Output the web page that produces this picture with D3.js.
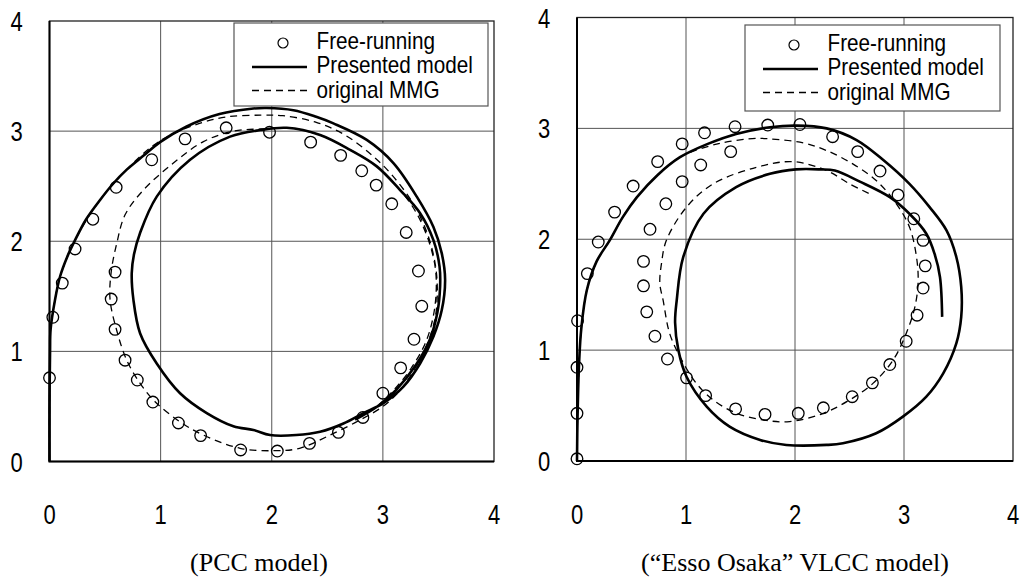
<!DOCTYPE html>
<html>
<head>
<meta charset="utf-8">
<script src="https://cdn.jsdelivr.net/npm/d3@7"></script>
<style>
  body { margin: 0; background: #fff; }
  svg { display: block; }
</style>
</head>
<body>
<div id="chart"></div>
<script>
// axis ticks (both axes, both panels)
var ticks = [0, 1, 2, 3, 4];
var legendLabels = ["Free-running", "Presented model", "original MMG"];
var captions = ["(PCC model)", "(\u201cEsso Osaka\u201d VLCC model)"];

// PCC model
var pccFree = [
  [0, 0.76], [0.03, 1.31], [0.115, 1.62], [0.23, 1.93], [0.39, 2.20], [0.60, 2.49],
  [0.92, 2.74], [1.22, 2.93], [1.59, 3.03], [1.98, 2.99], [2.35, 2.90], [2.62, 2.78],
  [2.81, 2.64], [2.94, 2.51], [3.08, 2.34], [3.21, 2.08], [3.32, 1.73], [3.35, 1.41],
  [3.28, 1.11], [3.16, 0.85], [3.00, 0.62], [2.82, 0.40], [2.60, 0.265], [2.34, 0.165],
  [2.05, 0.095], [1.72, 0.105], [1.36, 0.235], [1.16, 0.35], [0.93, 0.54], [0.79, 0.74],
  [0.68, 0.92], [0.59, 1.20], [0.555, 1.475], [0.59, 1.72]
];
var pccPresented = [
  [0, 0], [0, 0.5], [0.005, 1.0], [0.01, 1.2], [0.05, 1.47], [0.095, 1.68], [0.16, 1.86],
  [0.23, 2.01], [0.33, 2.2], [0.455, 2.375], [0.57, 2.52], [0.695, 2.65], [0.85, 2.78],
  [0.995, 2.90], [1.23, 3.04], [1.53, 3.155], [1.835, 3.205], [1.955, 3.21], [2.195, 3.19],
  [2.4, 3.13], [2.555, 3.07], [2.855, 2.92], [3.095, 2.71], [3.305, 2.405], [3.455, 2.13],
  [3.53, 1.89], [3.56, 1.65], [3.53, 1.375], [3.455, 1.135], [3.335, 0.89], [3.185, 0.68],
  [3.005, 0.53], [2.825, 0.44], [2.645, 0.345], [2.435, 0.27], [2.22, 0.24], [1.985, 0.24],
  [1.835, 0.286], [1.655, 0.32], [1.415, 0.44], [1.175, 0.62], [0.965, 0.89], [0.815, 1.165],
  [0.755, 1.47], [0.74, 1.71], [0.76, 1.88], [0.815, 2.075], [0.965, 2.405], [1.265, 2.74],
  [1.625, 2.95], [1.9, 3.01], [2.135, 3.03], [2.435, 2.965], [2.705, 2.83], [2.945, 2.68],
  [3.155, 2.465], [3.335, 2.255], [3.455, 2.01], [3.51, 1.77], [3.515, 1.59], [3.49, 1.35],
  [3.42, 1.1], [3.3, 0.88], [3.12, 0.65], [2.95, 0.5], [2.75, 0.38]
];
var pccMMG = [
  [0, 0], [0, 0.5], [0.005, 1.0], [0.01, 1.2], [0.05, 1.47], [0.095, 1.68], [0.23, 2.01],
  [0.455, 2.375], [0.695, 2.65], [0.92, 2.86], [1.1, 2.97], [1.35, 3.07], [1.6, 3.13],
  [1.9, 3.145], [2.1, 3.14], [2.4, 3.08], [2.65, 2.97], [2.915, 2.77], [3.1, 2.58],
  [3.28, 2.33], [3.4, 2.07], [3.47, 1.8], [3.49, 1.55], [3.47, 1.3], [3.4, 1.07],
  [3.28, 0.83], [3.15, 0.64], [3.0, 0.5], [2.8, 0.38], [2.555, 0.255], [2.25, 0.12],
  [2.015, 0.098], [1.715, 0.12], [1.385, 0.24], [1.175, 0.36], [0.95, 0.543], [0.815, 0.71],
  [0.695, 0.92], [0.605, 1.19], [0.545, 1.47], [0.555, 1.72], [0.605, 1.98], [0.68, 2.24],
  [0.845, 2.465], [1.115, 2.71], [1.385, 2.905], [1.655, 3.0], [1.9, 3.02], [2.135, 3.03],
  [2.435, 2.965], [2.705, 2.83], [2.945, 2.68], [3.155, 2.465], [3.3, 2.26], [3.41, 2.01],
  [3.47, 1.77], [3.48, 1.55], [3.45, 1.3], [3.38, 1.07], [3.25, 0.84], [3.1, 0.65], [2.97, 0.52]
];

// "Esso Osaka" VLCC model
var vlccFree = [
  [0, 0.02], [0, 0.43], [0, 0.845], [0.005, 1.265], [0.095, 1.69], [0.195, 1.975],
  [0.345, 2.245], [0.515, 2.48], [0.74, 2.70], [0.965, 2.86], [1.17, 2.96], [1.45, 3.015],
  [1.75, 3.03], [2.045, 3.035], [2.345, 2.925], [2.575, 2.79], [2.78, 2.615], [2.945, 2.40],
  [3.09, 2.185], [3.175, 1.99], [3.195, 1.76], [3.175, 1.56], [3.12, 1.315], [3.02, 1.08],
  [2.87, 0.87], [2.71, 0.705], [2.525, 0.58], [2.26, 0.48], [2.03, 0.43], [1.725, 0.42],
  [1.455, 0.47], [1.18, 0.59], [1.005, 0.75], [0.83, 0.92], [0.715, 1.125], [0.64, 1.345],
  [0.61, 1.58], [0.61, 1.80], [0.67, 2.09], [0.815, 2.32], [0.965, 2.52], [1.135, 2.67],
  [1.41, 2.79]
];
var vlccPresented = [
  [0, 0], [0.005, 0.4], [0.02, 0.9], [0.04, 1.2], [0.09, 1.54], [0.18, 1.8], [0.30, 1.99],
  [0.42, 2.2], [0.55, 2.38], [0.74, 2.58], [0.945, 2.74], [1.2, 2.86], [1.46, 2.95],
  [1.77, 3.01], [2.015, 3.025], [2.29, 3.0], [2.565, 2.895], [2.81, 2.715], [3.05, 2.50],
  [3.235, 2.29], [3.39, 2.08], [3.48, 1.84], [3.525, 1.57], [3.525, 1.30], [3.48, 1.06],
  [3.36, 0.79], [3.205, 0.58], [2.99, 0.40], [2.745, 0.25], [2.44, 0.16], [2.29, 0.145],
  [1.92, 0.145], [1.68, 0.19], [1.40, 0.31], [1.19, 0.49], [1.005, 0.76], [0.93, 1.0],
  [0.90, 1.25], [0.915, 1.45], [0.975, 1.84], [1.16, 2.23], [1.46, 2.47], [1.77, 2.59],
  [2.01, 2.63], [2.23, 2.63], [2.365, 2.62], [2.595, 2.52], [2.87, 2.38], [3.05, 2.23],
  [3.205, 2.05], [3.28, 1.87], [3.33, 1.66], [3.35, 1.30]
];
var vlccMMG = [
  [0, 0], [0.005, 0.4], [0.02, 0.9], [0.04, 1.2], [0.09, 1.54], [0.18, 1.8], [0.30, 1.99],
  [0.42, 2.2], [0.55, 2.38], [0.74, 2.58], [0.945, 2.74], [1.31, 2.865], [1.65, 2.91],
  [1.77, 2.905], [2.075, 2.87], [2.29, 2.80], [2.53, 2.68], [2.745, 2.53], [2.93, 2.32],
  [3.05, 2.11], [3.11, 1.87], [3.13, 1.63], [3.10, 1.39], [3.02, 1.15], [2.9, 0.91],
  [2.715, 0.70], [2.50, 0.55], [2.26, 0.43], [1.95, 0.355], [1.71, 0.37], [1.465, 0.43],
  [1.25, 0.55], [1.095, 0.70], [0.945, 0.94], [0.85, 1.15], [0.79, 1.45], [0.76, 1.60],
  [0.775, 1.78], [0.82, 1.99], [1.005, 2.29], [1.25, 2.50], [1.65, 2.65], [1.98, 2.70],
  [2.29, 2.62], [2.50, 2.50], [2.685, 2.41]
];

var sans = "'Liberation Sans', Arial, sans-serif";
var serif = "'Liberation Serif', 'Times New Roman', serif";

var svg = d3.select("#chart").append("svg")
  .attr("width", 1021)
  .attr("height", 579);

// text drawn narrow: position with translate, then squeeze horizontally
function narrow(sel, fx, fy, k) {
  return sel.attr("transform", function (d, i) {
    return "translate(" + fx(d, i) + "," + fy(d, i) + ") scale(" + k + ",1)";
  })
    .attr("font-family", sans);
}

var panels = [
  { box: [49.5, 494, 21, 461.5], ylab: 16.5, legend: [234, 23, 254, 83], capX: 259,
    free: pccFree, presented: pccPresented, mmg: pccMMG, caption: captions[0] },
  { box: [577, 1013, 17.5, 461], ylab: 544, legend: [745, 25, 255, 86], capX: 795,
    free: vlccFree, presented: vlccPresented, mmg: vlccMMG, caption: captions[1] }
];

panels.forEach(function (p) {
  var x = d3.scaleLinear().domain([0, 4]).range([p.box[0], p.box[1]]);
  var y = d3.scaleLinear().domain([0, 4]).range([p.box[3], p.box[2]]);
  var g = svg.append("g");

  // grid
  g.selectAll(".gx").data(ticks.slice(1, 4)).enter().append("line")
    .attr("x1", function (d) { return x(d); }).attr("x2", function (d) { return x(d); })
    .attr("y1", y(0)).attr("y2", y(4))
    .attr("stroke", "#555").attr("stroke-width", 1);
  g.selectAll(".gy").data(ticks.slice(1, 4)).enter().append("line")
    .attr("y1", function (d) { return y(d); }).attr("y2", function (d) { return y(d); })
    .attr("x1", x(0)).attr("x2", x(4))
    .attr("stroke", "#555").attr("stroke-width", 1);

  // frame
  g.append("rect")
    .attr("x", x(0)).attr("y", y(4))
    .attr("width", x(4) - x(0)).attr("height", y(0) - y(4))
    .attr("fill", "none").attr("stroke", "#222").attr("stroke-width", 1.3);
  g.append("path")
    .attr("d", "M" + x(0) + "," + y(4) + "V" + y(0) + "H" + x(4))
    .attr("fill", "none").attr("stroke", "#000").attr("stroke-width", 2);

  // tick labels
  narrow(g.selectAll(".tx").data(ticks).enter().append("text"),
    function (d) { return x(d); }, function () { return 523.5; }, 0.8)
    .attr("text-anchor", "middle")
    .attr("font-size", 27.5)
    .text(function (d) { return d; });
  narrow(g.selectAll(".ty").data(ticks).enter().append("text"),
    function () { return p.ylab; }, function (d) { return y(d) + 10; }, 0.8)
    .attr("text-anchor", "middle")
    .attr("font-size", 27.5)
    .text(function (d) { return d; });

  var line = d3.line()
    .x(function (d) { return x(d[0]); })
    .y(function (d) { return y(d[1]); })
    .curve(d3.curveCatmullRom.alpha(0.5));

  g.append("path").datum(p.mmg)
    .attr("d", line)
    .attr("fill", "none").attr("stroke", "#000")
    .attr("stroke-width", 1.3).attr("stroke-dasharray", "7,5");
  g.append("path").datum(p.presented)
    .attr("d", line)
    .attr("fill", "none").attr("stroke", "#000")
    .attr("stroke-width", 2.6).attr("stroke-linejoin", "round");

  g.selectAll(".pt").data(p.free).enter().append("circle")
    .attr("cx", function (d) { return x(d[0]); })
    .attr("cy", function (d) { return y(d[1]); })
    .attr("r", 5.8)
    .attr("fill", "none").attr("stroke", "#000").attr("stroke-width", 1.3);

  // legend
  var lg = p.legend;
  var leg = g.append("g").attr("transform", "translate(" + lg[0] + "," + lg[1] + ")");
  leg.append("rect")
    .attr("width", lg[2]).attr("height", lg[3])
    .attr("fill", "#fff").attr("stroke", "#555").attr("stroke-width", 1.2);
  leg.append("circle").attr("cx", 49).attr("cy", 20).attr("r", 5)
    .attr("fill", "none").attr("stroke", "#000").attr("stroke-width", 1.2);
  leg.append("line").attr("x1", 18).attr("x2", 73).attr("y1", 44).attr("y2", 44)
    .attr("stroke", "#000").attr("stroke-width", 2.6);
  leg.append("line").attr("x1", 18).attr("x2", 73).attr("y1", 67.5).attr("y2", 67.5)
    .attr("stroke", "#000").attr("stroke-width", 1.5).attr("stroke-dasharray", "7,5");
  narrow(leg.selectAll(".lt").data(legendLabels).enter().append("text"),
    function () { return 82.5; }, function (d, i) { return 25.5 + i * 24.5; }, 0.9)
    .attr("font-size", 23)
    .text(function (d) { return d; });

  // caption
  g.append("text")
    .attr("x", p.capX).attr("y", 571)
    .attr("text-anchor", "middle")
    .attr("font-family", serif)
    .attr("font-size", 26)
    .text(p.caption);
});
</script>
</body>
</html>
